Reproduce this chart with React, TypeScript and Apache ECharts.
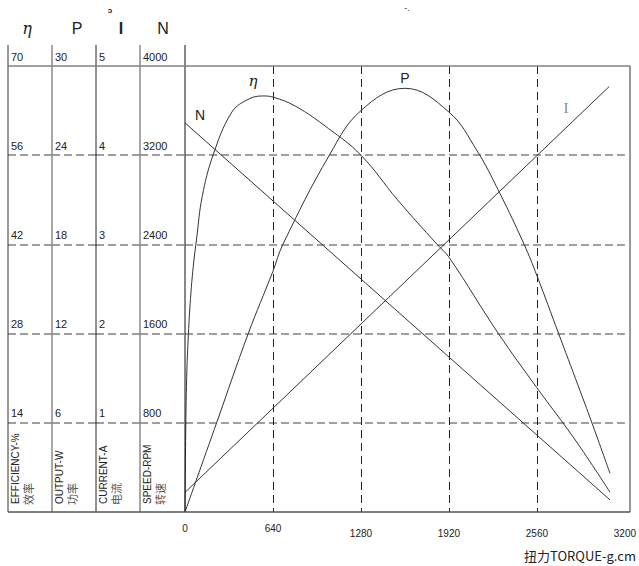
import React, { useEffect, useRef } from "react";
import * as echarts from "echarts";

// ---- data ----
const torqueTicks = [0, 640, 1280, 1920, 2560, 3200];
const axisHeaders = ["η", "P", "I", "N"];
const axisMax = [70, 30, 5, 4000];
const axisStep = [14, 6, 1, 800];
const axisNamesEn = ["EFFICIENCY-%", "OUTPUT-W", "CURRENT-A", "SPEED-RPM"];
const axisNamesCn = ["效率", "功率", "电流", "转速"];

const efficiencyData = [
  [0, 0], [5, 12], [12, 21], [25, 28], [40, 33.5], [60, 38.5], [85, 43], [125, 49.5],
  [204, 56], [336, 62.6], [444, 64.6], [563, 65.3], [642, 65.1], [803, 63.7],
  [1043, 60.2], [1280, 56], [1546, 49], [1834, 42], [1920, 40], [2280, 28],
  [2560, 19.5], [2839, 11.3], [3092, 3.1],
];
const outputData = [
  [0, 0], [230, 6], [460, 12], [640, 16.2], [712, 18], [1050, 24], [1280, 27.0],
  [1600, 28.5], [1920, 26.9], [2121, 24.35], [2287, 21.5], [2467, 18.0],
  [2560, 15.9], [2718, 12.0], [2860, 8.5], [2960, 6], [3092, 2.6],
];
const currentData = [[0, 0.22], [3086, 4.77]];
const speedData = [[0, 3490], [3092, 108]];

// ---- layout ----
const W = 639;
const H = 566;
const COL_X = [8, 52, 96, 140, 185];
const TOP = 66;
const BOTTOM = 512;
const RIGHT = 630;
const HEADER_TOP = 45;
const NARROW = '"Liberation Sans Narrow", "Liberation Sans", Arial, sans-serif';
const SANS = '"Liberation Sans", Arial, sans-serif';
const CJK = '"Noto Sans CJK SC", sans-serif';

export default function App() {
  const ref = useRef<HTMLDivElement>(null);
  useEffect(() => {
    if (!ref.current) return;
    const chart = echarts.init(ref.current, undefined, { renderer: "svg" });
    const plotH = BOTTOM - TOP;
    const grids: any[] = [];
    const xAxes: any[] = [];
    const yAxes: any[] = [];
    for (let i = 0; i < 4; i++) {
      grids.push({ left: COL_X[i], top: TOP, width: COL_X[i + 1] - COL_X[i], height: plotH });
      xAxes.push({ gridIndex: i, type: "value", show: false, min: 0, max: 1 });
      yAxes.push({
        gridIndex: i,
        type: "value",
        min: 0,
        max: axisMax[i],
        interval: axisStep[i],
        axisLine: { show: false },
        axisTick: { show: false },
        axisLabel: {
          inside: true,
          margin: 3,
          align: "left",
          verticalAlign: "bottom",
          showMinLabel: false,
          fontSize: 11,
          color: "#222222",
          fontFamily: NARROW,
          padding: [0, 0, 4, 0],
          formatter: (v: number) => String(v),
        },
        splitLine: {
          show: true,
          showMinLine: false,
          showMaxLine: false,
          lineStyle: { type: [8, 4], color: "#808080", width: 1.5 },
        },
      });
    }
    grids.push({ left: COL_X[4], top: TOP, width: RIGHT - COL_X[4], height: plotH });
    xAxes.push({
      gridIndex: 4,
      type: "value",
      min: torqueTicks[0],
      max: torqueTicks[torqueTicks.length - 1],
      interval: torqueTicks[1] - torqueTicks[0],
      axisLine: { show: false },
      axisTick: { show: false },
      axisLabel: {
        margin: 11,
        fontSize: 10,
        color: "#222",
        fontFamily: NARROW,
        formatter: (v: number) => (v <= torqueTicks[1] ? `{a|${v}}` : `{b|${v}}`),
        rich: {
          a: { fontSize: 10, fontFamily: NARROW, color: "#222" },
          b: { fontSize: 10, fontFamily: NARROW, color: "#222", padding: [5, 0, 0, 0] },
        },
      },
      splitLine: {
        show: true,
        showMinLine: false,
        showMaxLine: false,
        lineStyle: { type: [8, 5], color: "#222", width: 1 },
      },
    });
    for (let i = 0; i < 4; i++) {
      yAxes.push({
        gridIndex: 4,
        type: "value",
        min: 0,
        max: axisMax[i],
        interval: axisStep[i],
        show: i === 0,
        axisLine: { show: false },
        axisTick: { show: false },
        axisLabel: { show: false },
        splitLine: {
          show: i === 0,
          showMinLine: false,
          showMaxLine: false,
          lineStyle: { type: [8, 4], color: "#808080", width: 1.5 },
        },
      });
    }

    const lineStyle = { color: "#333", width: 1 };
    const series: any[] = [
      { name: "η", data: efficiencyData, yAxisIndex: 4, smooth: 0.4 },
      { name: "P", data: outputData, yAxisIndex: 5, smooth: 0.4 },
      { name: "I", data: currentData, yAxisIndex: 6, smooth: false },
      { name: "N", data: speedData, yAxisIndex: 7, smooth: false },
    ].map((s) => ({
      ...s,
      type: "line",
      xAxisIndex: 4,
      showSymbol: false,
      symbol: "none",
      lineStyle,
      z: 5,
    }));

    const graphic: any[] = [];
    const dividerColors = ["#333", "#888", "#222", "#888", "#111"];
    COL_X.forEach((x, i) => {
      graphic.push({
        type: "line",
        z: 10,
        shape: { x1: x, y1: HEADER_TOP, x2: x, y2: BOTTOM },
        style: { stroke: dividerColors[i], lineWidth: i % 2 === 1 ? 1.5 : 1 },
      });
    });
    graphic.push({
      type: "line",
      z: 10,
      shape: { x1: COL_X[0], y1: TOP, x2: RIGHT, y2: TOP },
      style: { stroke: "#808080", lineWidth: 1.5 },
    });
    graphic.push({
      type: "line",
      z: 10,
      shape: { x1: COL_X[0], y1: BOTTOM, x2: RIGHT, y2: BOTTOM },
      style: { stroke: "#555", lineWidth: 1.5 },
    });
    graphic.push({
      type: "line",
      z: 10,
      shape: { x1: RIGHT, y1: TOP, x2: RIGHT, y2: BOTTOM },
      style: { stroke: "#333", lineWidth: 1 },
    });
    const headerFonts = [
      { fontFamily: '"DejaVu Serif", serif', fontStyle: "italic", fontSize: 16 },
      { fontFamily: SANS, fontSize: 16 },
      { fontFamily: SANS, fontSize: 16, fontWeight: "bold" },
      { fontFamily: SANS, fontSize: 16 },
    ];
    const headerX = [27, 77, 121, 163];
    axisHeaders.forEach((t, i) => {
      graphic.push({
        type: "text",
        x: headerX[i],
        y: 28,
        style: { text: t, align: "center", verticalAlign: "middle", fill: "#222", ...headerFonts[i] },
      });
    });
    axisNamesEn.forEach((t, i) => {
      graphic.push({
        type: "text",
        x: COL_X[i] + 7,
        y: 504,
        rotation: Math.PI / 2,
        style: { text: t, align: "left", verticalAlign: "middle", fill: "#222", fontSize: 10, fontFamily: NARROW },
      });
      graphic.push({
        type: "text",
        x: COL_X[i] + 20,
        y: 505,
        rotation: Math.PI / 2,
        style: { text: axisNamesCn[i], align: "left", verticalAlign: "middle", fill: "#555", fontSize: 11, fontFamily: CJK },
      });
    });
    graphic.push({ type: "text", x: 200, y: 115, style: { text: "N", align: "center", verticalAlign: "middle", fill: "#222", fontSize: 14, fontFamily: SANS } });
    graphic.push({ type: "text", x: 253, y: 81, style: { text: "η", align: "center", verticalAlign: "middle", fill: "#222", fontSize: 15, fontStyle: "italic", fontFamily: '"DejaVu Serif", serif' } });
    graphic.push({ type: "text", x: 405, y: 78, style: { text: "P", align: "center", verticalAlign: "middle", fill: "#222", fontSize: 14, fontFamily: SANS } });
    graphic.push({ type: "text", x: 566, y: 108, style: { text: "I", align: "center", verticalAlign: "middle", fill: "#888", fontSize: 15, fontFamily: '"Liberation Serif", serif' } });
    graphic.push({ type: "text", x: 636, y: 555, style: { text: "扭力TORQUE-g.cm", align: "right", verticalAlign: "middle", fill: "#222", fontSize: 13, fontFamily: CJK } });
    graphic.push({ type: "text", x: 110, y: 10, style: { text: "ɔ", align: "center", verticalAlign: "middle", fill: "#222", fontSize: 8, fontWeight: "bold", fontFamily: SANS } });
    graphic.push({ type: "text", x: 407, y: 8, style: { text: "-.", align: "center", verticalAlign: "middle", fill: "#333", fontSize: 9, fontFamily: SANS } });

    chart.setOption({
      animation: false,
      backgroundColor: "#fff",
      grid: grids,
      xAxis: xAxes,
      yAxis: yAxes,
      series,
      graphic,
    });
    return () => chart.dispose();
  }, []);
  return (
    <div
      ref={ref}
      style={{ position: "fixed", left: 0, top: 0, width: W, height: H }}
    />
  );
}
